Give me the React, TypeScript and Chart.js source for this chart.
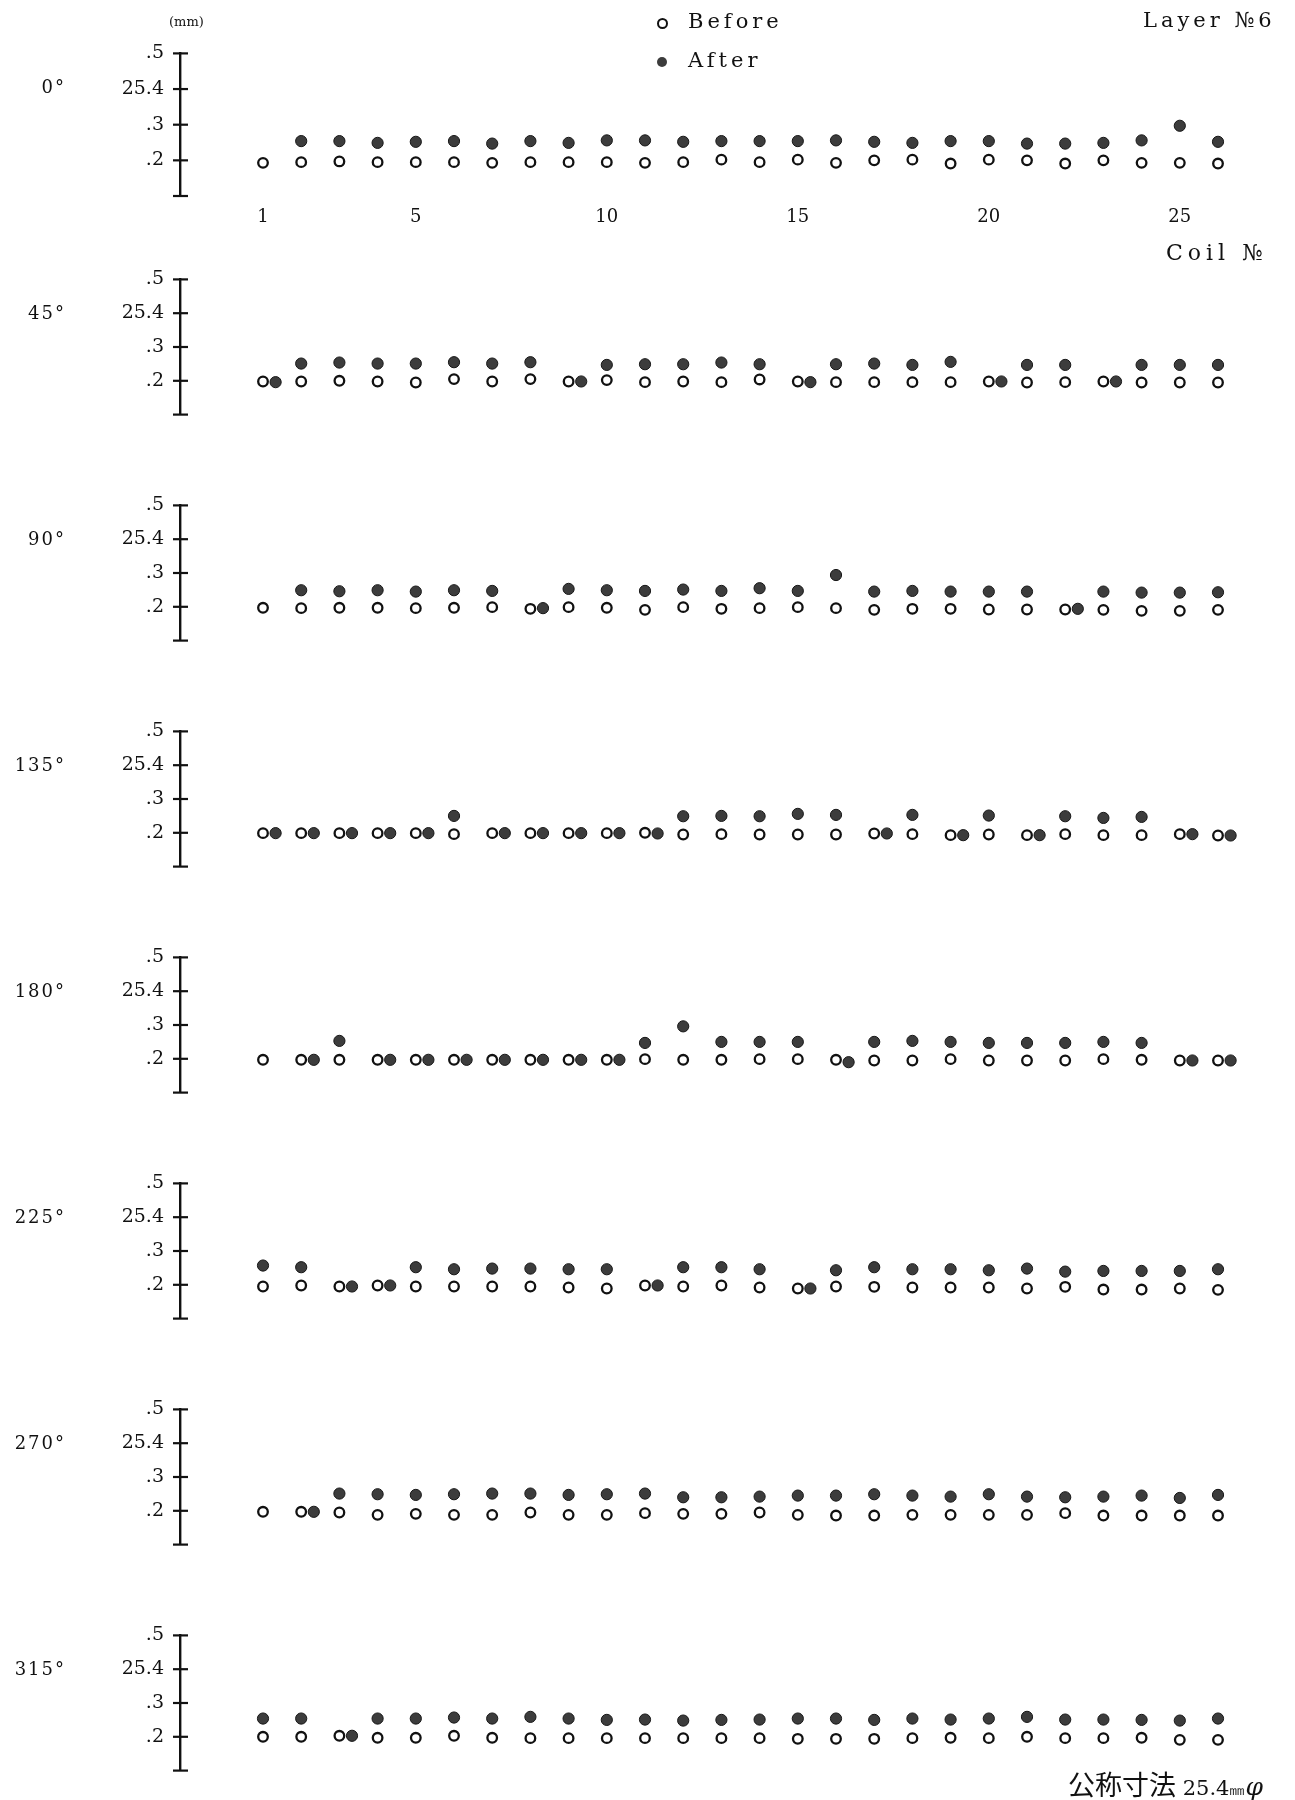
import React, { useEffect, useRef } from "react";
import { Chart, registerables } from "chart.js";

Chart.register(...registerables);

// ---------------- data ----------------
const COILS = [1, 2, 3, 4, 5, 6, 7, 8, 9, 10, 11, 12, 13, 14, 15, 16, 17, 18, 19, 20, 21, 22, 23, 24, 25, 26];
const ANGLES = ["0°", "45°", "90°", "135°", "180°", "225°", "270°", "315°"];
const X_TICKS = [1, 5, 10, 15, 20, 25];
const Y_TICK_VALUES = [25.1, 25.2, 25.3, 25.4, 25.5];
const Y_TICK_LABELS = ["", ".2", ".3", "25.4", ".5"];
const Y_MIN = 25.1;
const Y_MAX = 25.5;

const BEFORE_0 = [25.193, 25.195, 25.197, 25.195, 25.195, 25.195, 25.193, 25.195, 25.195, 25.195, 25.193, 25.195, 25.202, 25.195, 25.202, 25.193, 25.2, 25.202, 25.191, 25.202, 25.2, 25.191, 25.2, 25.193, 25.193, 25.191];
const AFTER_0 = [null, 25.254, 25.254, 25.249, 25.252, 25.254, 25.247, 25.254, 25.249, 25.256, 25.256, 25.252, 25.254, 25.254, 25.254, 25.256, 25.252, 25.249, 25.254, 25.254, 25.247, 25.247, 25.249, 25.256, 25.297, 25.252];

const BEFORE_45 = [25.198, 25.198, 25.2, 25.198, 25.195, 25.205, 25.198, 25.205, 25.198, 25.202, 25.196, 25.198, 25.196, 25.204, 25.198, 25.196, 25.196, 25.196, 25.196, 25.198, 25.195, 25.196, 25.198, 25.195, 25.195, 25.195];
const AFTER_45 = [25.196, 25.251, 25.254, 25.251, 25.251, 25.255, 25.251, 25.255, 25.198, 25.247, 25.249, 25.249, 25.254, 25.249, 25.196, 25.249, 25.251, 25.247, 25.256, 25.198, 25.247, 25.247, 25.198, 25.247, 25.247, 25.247];

const BEFORE_90 = [25.197, 25.196, 25.197, 25.197, 25.196, 25.197, 25.199, 25.194, 25.199, 25.197, 25.191, 25.199, 25.194, 25.196, 25.199, 25.196, 25.191, 25.194, 25.194, 25.192, 25.192, 25.192, 25.191, 25.188, 25.188, 25.191];
const AFTER_90 = [null, 25.249, 25.246, 25.249, 25.245, 25.249, 25.247, 25.196, 25.253, 25.249, 25.247, 25.251, 25.247, 25.255, 25.247, 25.294, 25.245, 25.247, 25.245, 25.245, 25.245, 25.194, 25.245, 25.242, 25.242, 25.243];

const BEFORE_135 = [25.199, 25.199, 25.199, 25.199, 25.199, 25.196, 25.199, 25.199, 25.199, 25.199, 25.2, 25.195, 25.196, 25.195, 25.195, 25.195, 25.198, 25.196, 25.193, 25.195, 25.193, 25.196, 25.193, 25.193, 25.196, 25.192];
const AFTER_135 = [25.199, 25.199, 25.199, 25.199, 25.199, 25.25, 25.199, 25.199, 25.199, 25.199, 25.198, 25.249, 25.25, 25.249, 25.256, 25.253, 25.198, 25.253, 25.193, 25.251, 25.193, 25.249, 25.244, 25.247, 25.196, 25.192];

const BEFORE_180 = [25.197, 25.197, 25.197, 25.197, 25.197, 25.197, 25.197, 25.197, 25.197, 25.197, 25.199, 25.197, 25.197, 25.199, 25.199, 25.197, 25.195, 25.195, 25.199, 25.195, 25.195, 25.195, 25.199, 25.197, 25.195, 25.195];
const AFTER_180 = [null, 25.197, 25.253, 25.197, 25.197, 25.197, 25.197, 25.197, 25.197, 25.197, 25.247, 25.296, 25.25, 25.25, 25.25, 25.19, 25.25, 25.253, 25.25, 25.247, 25.247, 25.247, 25.25, 25.247, 25.195, 25.195];

const BEFORE_225 = [25.195, 25.198, 25.195, 25.198, 25.195, 25.195, 25.195, 25.195, 25.192, 25.189, 25.198, 25.195, 25.198, 25.192, 25.189, 25.195, 25.194, 25.192, 25.192, 25.192, 25.189, 25.194, 25.186, 25.186, 25.189, 25.185];
const AFTER_225 = [25.257, 25.252, 25.195, 25.198, 25.252, 25.246, 25.248, 25.248, 25.246, 25.246, 25.198, 25.252, 25.252, 25.246, 25.189, 25.243, 25.252, 25.246, 25.246, 25.243, 25.248, 25.239, 25.241, 25.241, 25.241, 25.246];

const BEFORE_270 = [25.197, 25.197, 25.195, 25.188, 25.191, 25.188, 25.188, 25.195, 25.188, 25.188, 25.193, 25.191, 25.191, 25.195, 25.188, 25.186, 25.186, 25.188, 25.188, 25.188, 25.188, 25.193, 25.186, 25.186, 25.186, 25.186];
const AFTER_270 = [null, 25.197, 25.251, 25.249, 25.247, 25.249, 25.251, 25.251, 25.247, 25.249, 25.251, 25.24, 25.24, 25.242, 25.245, 25.245, 25.249, 25.245, 25.242, 25.249, 25.242, 25.24, 25.242, 25.245, 25.238, 25.247];

const BEFORE_315 = [25.2, 25.2, 25.203, 25.197, 25.197, 25.203, 25.197, 25.196, 25.196, 25.196, 25.196, 25.196, 25.196, 25.196, 25.194, 25.194, 25.194, 25.196, 25.197, 25.196, 25.2, 25.196, 25.196, 25.197, 25.191, 25.191];
const AFTER_315 = [25.254, 25.254, 25.203, 25.254, 25.254, 25.257, 25.254, 25.259, 25.254, 25.25, 25.251, 25.248, 25.25, 25.251, 25.254, 25.254, 25.25, 25.254, 25.251, 25.254, 25.259, 25.251, 25.251, 25.25, 25.248, 25.254];

const PANELS = [
  { angle: ANGLES[0], before: BEFORE_0, after: AFTER_0 },
  { angle: ANGLES[1], before: BEFORE_45, after: AFTER_45 },
  { angle: ANGLES[2], before: BEFORE_90, after: AFTER_90 },
  { angle: ANGLES[3], before: BEFORE_135, after: AFTER_135 },
  { angle: ANGLES[4], before: BEFORE_180, after: AFTER_180 },
  { angle: ANGLES[5], before: BEFORE_225, after: AFTER_225 },
  { angle: ANGLES[6], before: BEFORE_270, after: AFTER_270 },
  { angle: ANGLES[7], before: BEFORE_315, after: AFTER_315 },
];

// ---------------- layout ----------------
const W = 1295;
const AXIS_X = 180; // pixel of y axis line
const COIL1_X = 263; // pixel of coil 1
const COIL_STEP = 38.2; // px per coil
const PAD_RIGHT = 20;
const X_MIN = 1 - (COIL1_X - AXIS_X) / COIL_STEP;
const X_MAX = X_MIN + (W - PAD_RIGHT - AXIS_X) / COIL_STEP;
const PANEL_TOP0 = 46;
const PANEL_GAP = 226;
const PANEL_H = 150;
const SAME_OFFSET = 0.33; // after-dot nudged right when it coincides with before-dot
const SERIF = "'DejaVu Serif', 'Liberation Serif', serif";

const crossTicks = {
  id: "crossTicks",
  afterDraw(chart: any) {
    const ys = chart.scales.y;
    const ctx = chart.ctx;
    const x0 = chart.chartArea.left;
    ctx.save();
    ctx.strokeStyle = "#111";
    ctx.lineWidth = 2.2;
    for (const v of Y_TICK_VALUES) {
      const py = ys.getPixelForValue(v);
      ctx.beginPath();
      ctx.moveTo(x0 - 7, py);
      ctx.lineTo(x0 + 8, py);
      ctx.stroke();
    }
    ctx.restore();
  },
};

function Panel({ idx }: { idx: number }) {
  const ref = useRef<HTMLCanvasElement | null>(null);
  const p = PANELS[idx];
  const first = idx === 0;
  const top = PANEL_TOP0 + PANEL_GAP * idx - 20;
  const height = first ? 20 + PANEL_H + 40 : 20 + PANEL_H + 20;

  useEffect(() => {
    if (!ref.current) return;
    const beforePts = COILS.map((c, i) => ({ x: c, y: p.before[i] }));
    const afterPts: any[] = [];
    COILS.forEach((c, i) => {
      const a = p.after[i];
      if (a === null || a === undefined) return;
      const same = Math.abs(a - p.before[i]) < 0.015;
      afterPts.push({ x: same ? c + SAME_OFFSET : c, y: a });
    });
    const chart = new Chart(ref.current, {
      type: "scatter",
      data: {
        datasets: [
          {
            label: "Before",
            data: beforePts,
            pointStyle: "circle",
            pointRadius: 4.8,
            pointBackgroundColor: "#ffffff",
            pointBorderColor: "#111111",
            pointBorderWidth: 2.3,
            clip: false,
            order: 2,
          } as any,
          {
            label: "After",
            data: afterPts,
            pointStyle: "circle",
            pointRadius: 5.6,
            pointBackgroundColor: "#3c3c3c",
            pointBorderColor: "#161616",
            pointBorderWidth: 1,
            clip: false,
            order: 1,
          } as any,
        ],
      },
      options: {
        animation: false,
        responsive: true,
        maintainAspectRatio: false,
        layout: { padding: { top: 20, bottom: first ? 0 : 20, left: 0, right: PAD_RIGHT } },
        plugins: { legend: { display: false }, tooltip: { enabled: false } },
        events: [],
        scales: {
          x: {
            type: "linear",
            min: X_MIN,
            max: X_MAX,
            display: first,
            afterFit: (s: any) => {
              s.height = first ? 40 : 0;
            },
            afterBuildTicks: (s: any) => {
              s.ticks = X_TICKS.map((v) => ({ value: v }));
            },
            grid: { display: false, drawTicks: false },
            border: { display: false },
            ticks: {
              padding: 11,
              color: "#111",
              font: { family: SERIF, size: 18 },
              maxRotation: 0,
              autoSkip: false,
              callback: (v: any) => String(v),
            },
          },
          y: {
            type: "linear",
            min: Y_MIN,
            max: Y_MAX,
            afterFit: (s: any) => {
              s.width = AXIS_X;
            },
            afterBuildTicks: (s: any) => {
              s.ticks = Y_TICK_VALUES.map((v) => ({ value: v }));
            },
            grid: { display: false, drawTicks: false },
            border: { display: true, color: "#111", width: 2.4 },
            ticks: {
              padding: 16,
              color: "#111",
              font: { family: SERIF, size: 19 },
              autoSkip: false,
              callback: (v: any) => {
                const i = Y_TICK_VALUES.findIndex((t) => Math.abs(t - Number(v)) < 1e-6);
                return i >= 0 ? Y_TICK_LABELS[i] : "";
              },
            },
          },
        },
      } as any,
      plugins: [crossTicks],
    });
    return () => chart.destroy();
  }, [idx]);

  return (
    <>
      <div style={{ position: "absolute", left: 0, top, width: W, height }}>
        <canvas ref={ref} />
      </div>
      <div
        style={{
          position: "absolute",
          right: W - 66,
          top: PANEL_TOP0 + PANEL_GAP * idx + 30,
          fontFamily: SERIF,
          fontSize: 18,
          letterSpacing: 2,
          color: "#111",
          whiteSpace: "nowrap",
        }}
      >
        {p.angle}
      </div>
    </>
  );
}

const txt: React.CSSProperties = {
  position: "absolute",
  fontFamily: SERIF,
  color: "#111",
  whiteSpace: "nowrap",
};

export default function App() {
  return (
    <div style={{ position: "absolute", left: 0, top: 0, width: W, height: 1800, background: "#fff", overflow: "hidden" }}>
      {PANELS.map((_, i) => (
        <Panel key={i} idx={i} />
      ))}
      {/* unit */}
      <div style={{ ...txt, left: 169, top: 14, fontSize: 13 }}>(mm)</div>
      {/* legend */}
      <div style={{ position: "absolute", left: 657, top: 18, width: 7, height: 7, borderRadius: "50%", border: "2px solid #111", background: "#fff" }} />
      <div style={{ ...txt, left: 688, top: 9, fontSize: 21, letterSpacing: 4 }}>Before</div>
      <div style={{ position: "absolute", left: 657, top: 57, width: 10, height: 10, borderRadius: "50%", background: "#3c3c3c" }} />
      <div style={{ ...txt, left: 688, top: 48, fontSize: 21, letterSpacing: 4 }}>After</div>
      {/* layer */}
      <div style={{ ...txt, left: 1143, top: 8, fontSize: 21, letterSpacing: 4 }}>Layer №6</div>
      {/* x title */}
      <div style={{ ...txt, left: 1166, top: 240, fontSize: 22, letterSpacing: 5 }}>Coil №</div>
      {/* nominal size note */}
      <div style={{ ...txt, left: 1068, top: 1764, fontSize: 27 }}>
        <span style={{ fontFamily: "'Noto Sans CJK JP', sans-serif" }}>公称寸法</span>
        <span style={{ fontSize: 21 }}> 25.4</span>
        <span style={{ fontSize: 16 }}>㎜</span>
        <span style={{ fontSize: 25, fontStyle: "italic" }}>φ</span>
      </div>
    </div>
  );
}
